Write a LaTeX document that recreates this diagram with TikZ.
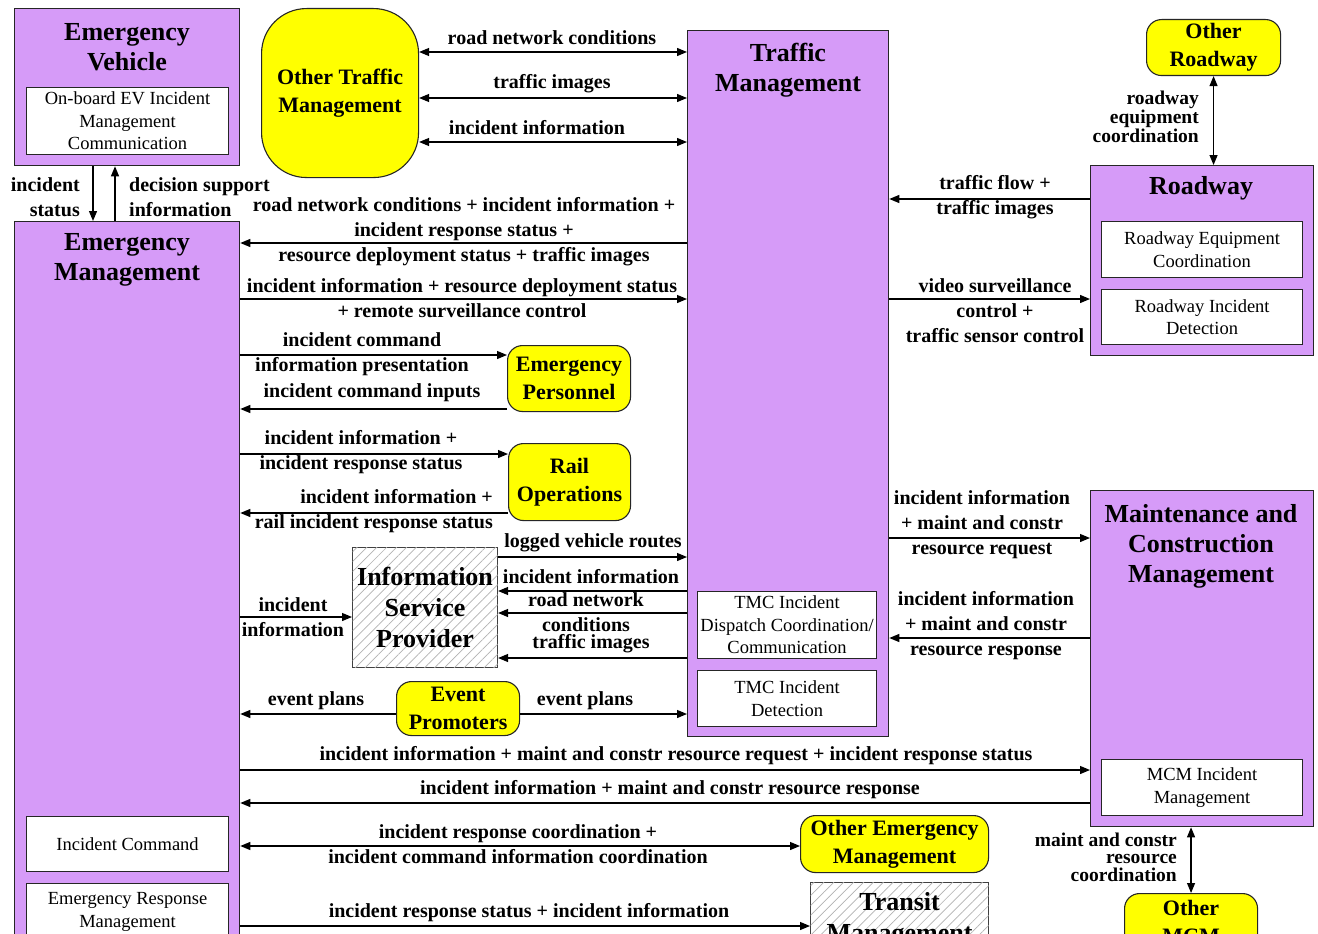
\documentclass[tikz,border=0pt]{standalone}
\usepackage{fontspec}
\setmainfont{Liberation Serif}
\usetikzlibrary{arrows.meta,patterns.meta}
\definecolor{purp}{RGB}{214,155,248}
\definecolor{yel}{RGB}{255,255,0}
\begin{document}
\begin{tikzpicture}[x=1pt,y=-1pt,
 box/.style={draw=black!85,line width=1.3pt,fill=purp,anchor=north west,inner sep=0},
 sub/.style={draw=black!85,line width=1.1pt,fill=white,anchor=north west,inner sep=0,align=center,font=\fontsize{18.5}{22.5}\selectfont},
 ext/.style={draw=black!85,line width=1.1pt,fill=yel,anchor=north west,inner sep=0,rounded corners=15pt,align=center,font=\fontsize{22}{28}\selectfont\bfseries},
 hatch/.style={draw=black!75,line width=1.1pt,fill=white,anchor=north west,inner sep=0,align=center,font=\fontsize{26}{31}\selectfont\bfseries,
   postaction={pattern={Lines[angle=45,distance=7pt,line width=.7pt]},pattern color=black!30}},
 ttl/.style={font=\fontsize{26}{30}\selectfont\bfseries,align=center,inner sep=0},
 lbl/.style={font=\fontsize{20}{25}\selectfont\bfseries,align=center,inner sep=0},
 tlbl/.style={font=\fontsize{19.5}{17.5}\selectfont\bfseries,align=right,inner sep=0,anchor=east},
 arr/.style={line width=1.2pt,-{Triangle[length=10pt,width=8pt]}},
 darr/.style={line width=1.2pt,{Triangle[length=10pt,width=8pt]}-{Triangle[length=10pt,width=8pt]}},
]
\useasboundingbox (0,0) rectangle (1318,934);
\fill[white] (0,0) rectangle (1318,934);
\clip (0,0) rectangle (1318,934);

% ---------- boxes ----------
\node[box,minimum width=225pt,minimum height=157pt] (ev) at (14,8) {};
\node[ttl] (evt) at (127,47) {Emergency\\Vehicle};
\node[sub,minimum width=202pt,minimum height=67pt] (evs) at (26,87) {On-board EV Incident\\Management\\Communication};

\node[box,minimum width=225pt,minimum height=740pt] (em) at (14,221) {};
\node[ttl] (emt) at (127,260) {Emergency\\Management};
\node[sub,minimum width=202pt,minimum height=55pt] (ic) at (26,816) {Incident Command};
\node[sub,minimum width=202pt,minimum height=57pt] (erm) at (26,883) {Emergency Response\\Management};

\node[ext,rounded corners=45pt,minimum width=157pt,minimum height=169pt] (otm) at (261,8) {Other Traffic\\Management};

\node[box,minimum width=201pt,minimum height=706pt] (tm) at (687,30) {};
\node[ttl] (tmt) at (788,70) {Traffic\\Management};
\node[sub,minimum width=179pt,minimum height=67pt] (tmc1) at (697,591) {TMC Incident\\Dispatch Coordination/\\Communication};
\node[sub,minimum width=179pt,minimum height=56pt] (tmc2) at (697,670) {TMC Incident\\Detection};

\node[box,minimum width=223pt,minimum height=190pt] (rw) at (1090,165) {};
\node[ttl] (rwt) at (1201,188) {Roadway};
\node[sub,minimum width=201pt,minimum height=56pt] (rw1) at (1101,221) {Roadway Equipment\\Coordination};
\node[sub,minimum width=201pt,minimum height=55pt] (rw2) at (1101,289) {Roadway Incident\\Detection};

\node[ext,minimum width=134pt,minimum height=56pt] (orw) at (1146,19) {Other\\Roadway};

\node[box,minimum width=223pt,minimum height=336pt] (mcm) at (1090,490) {};
\node[ttl] (mcmt) at (1201,546) {Maintenance and\\Construction\\Management};
\node[sub,minimum width=201pt,minimum height=56pt] (mcm1) at (1101,759) {MCM Incident\\Management};

\node[ext,minimum width=123pt,minimum height=66pt] (ep) at (507,345) {Emergency\\Personnel};
\node[ext,minimum width=122pt,minimum height=77pt] (ro) at (508,443) {Rail\\Operations};
\node[hatch,minimum width=145pt,minimum height=120pt] (isp) at (352,547) {Information\\Service\\Provider};
\node[ext,minimum width=123pt,minimum height=54pt] (evp) at (396,681) {Event\\Promoters};
\node[ext,minimum width=188pt,minimum height=57pt] (oem) at (800,815) {Other Emergency\\Management};
\node[hatch,minimum width=178pt,minimum height=74pt] (trn) at (810,882) {Transit\\Management};
\node[ext,minimum width=133pt,minimum height=56pt] (omcm) at (1124,893) {Other\\MCM};

% ---------- connectors ----------
\draw[arr] (ev.south -| 93,0) -- (em.north -| 93,0);
\draw[arr] (em.north -| 115,0) -- (ev.south -| 115,0);
\node[lbl,align=right,anchor=east] (l1) at (80,197) {incident\\status};
\node[lbl,align=left,anchor=west] (l2) at (129,197) {decision support\\information};

\draw[darr] (otm.east |- 0,52) -- (tm.west |- 0,52);
\draw[darr] (otm.east |- 0,98) -- (tm.west |- 0,98);
\draw[darr] (otm.east |- 0,142) -- (tm.west |- 0,142);
\node[lbl] (l3) at (552,38) {road network conditions};
\node[lbl] (l4) at (552,84) {traffic images};
\node[lbl] (l5) at (537,128) {incident information};

\draw[arr] (tm.west |- 0,243) -- (em.east |- 0,243);
\node[lbl] (l6) at (464,231.5) {road network conditions + incident information +\\incident response status +\\resource deployment status + traffic images};
\draw[arr] (em.east |- 0,299) -- (tm.west |- 0,299);
\node[lbl] (l7) at (462,298.5) {incident information + resource deployment status\\+ remote surveillance control};

\draw[arr] (em.east |- 0,355) -- (ep.west |- 0,355);
\node[lbl] (l8) at (362,354.5) {incident command\\information presentation};
\draw[arr] (ep.west |- 0,409) -- (em.east |- 0,409);
\node[lbl] (l9) at (372,393) {incident command inputs};

\draw[arr] (em.east |- 0,454) -- (ro.west |- 0,454);
\node[lbl] (l10) at (361,452.5) {incident information +\\incident response status};
\draw[arr] (ro.west |- 0,513) -- (em.east |- 0,513);
\node[lbl,align=right,anchor=east] (l11) at (493,511) {incident information +\\rail incident response status};

\draw[arr] (em.east |- 0,617) -- (isp.west |- 0,617);
\node[lbl] (l12) at (293,617) {incident\\information};

\draw[arr] (isp.east |- 0,557) -- (tm.west |- 0,557);
\node[lbl] (l13) at (593,543) {logged vehicle routes};
\draw[arr] (tm.west |- 0,591) -- (isp.east |- 0,591);
\node[lbl] (l14) at (591,577) {incident information};
\draw[arr] (tm.west |- 0,613) -- (isp.east |- 0,613);
\node[lbl] (l15) at (586,612) {road network\\conditions};
\draw[arr] (tm.west |- 0,658) -- (isp.east |- 0,658);
\node[lbl] (l16) at (591,644) {traffic images};

\draw[arr] (evp.west |- 0,714) -- (em.east |- 0,714);
\node[lbl] (l17) at (316,701) {event plans};
\draw[arr] (evp.east |- 0,714) -- (tm.west |- 0,714);
\node[lbl] (l18) at (585,701) {event plans};

\draw[darr] (orw.south) -- (orw.south |- rw.north);
\node[tlbl] (l19) at (1199,117) {roadway\\equipment\\coordination};

\draw[arr] (rw.west |- 0,199) -- (tm.east |- 0,199);
\node[lbl] (l20) at (995,197) {traffic flow +\\traffic images};
\draw[arr] (tm.east |- 0,299) -- (rw.west |- 0,299);
\node[lbl] (l21) at (995,310.5) {video surveillance\\control +\\traffic sensor control};

\draw[arr] (tm.east |- 0,538) -- (mcm.west |- 0,538);
\node[lbl] (l22) at (982,525) {incident information\\+ maint and constr\\resource request};
\draw[arr] (mcm.west |- 0,638) -- (tm.east |- 0,638);
\node[lbl] (l23) at (986,626) {incident information\\+ maint and constr\\resource response};

\draw[arr] (em.east |- 0,770) -- (mcm.west |- 0,770);
\node[lbl] (l24) at (676,756) {incident information + maint and constr resource request + incident response status};
\draw[arr] (mcm.west |- 0,803) -- (em.east |- 0,803);
\node[lbl] (l25) at (670,790) {incident information + maint and constr resource response};

\draw[darr] (em.east |- 0,846) -- (oem.west |- 0,846);
\node[lbl] (l26) at (518,844.5) {incident response coordination +\\incident command information coordination};

\draw[arr] (em.east |- 0,926) -- (trn.west |- 0,926);
\node[lbl] (l27) at (529,913) {incident response status + incident information};

\draw[darr] (mcm.south -| omcm.north) -- (omcm.north);
\node[tlbl] (l28) at (1177,857) {maint and constr\\resource\\coordination};
\end{tikzpicture}
\end{document}
